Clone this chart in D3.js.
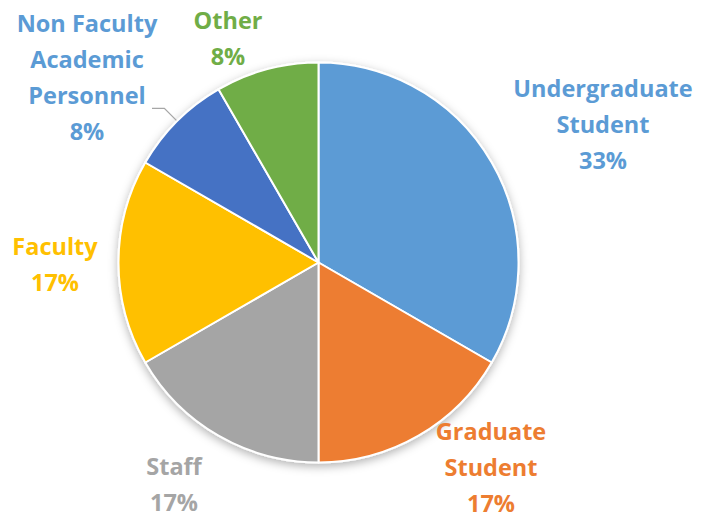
<!DOCTYPE html>
<html>
<head>
<meta charset="utf-8">
<script src="https://cdn.jsdelivr.net/npm/d3@7"></script>
<style>
  html, body { margin: 0; padding: 0; background: #fff; }
  svg { display: block; }
  .label { font-family: "Open Sans", sans-serif; font-weight: bold; font-size: 23.5px; }
</style>
</head>
<body>
<div class="pieDIV"></div>
<script>
// pie chart data
var categories = ["Undergraduate Student", "Graduate Student", "Staff", "Faculty", "Non Faculty Academic Personnel", "Other"],
    counts = [4, 2, 2, 2, 1, 1],
    labelLines = [["Undergraduate", "Student"], ["Graduate", "Student"], ["Staff"], ["Faculty"], ["Non Faculty", "Academic", "Personnel"], ["Other"]],
    sliceColors = ["#5B9BD5", "#ED7D31", "#A5A5A5", "#FFC000", "#4472C4", "#70AD47"],
    textColors = ["#5B9BD5", "#ED7D31", "#A5A5A5", "#FFC000", "#5B9BD5", "#70AD47"];

var width = 701,
    height = 519,
    cx = 318.5,
    cy = 262.5,
    radius = 200,
    lineGap = 36;

// where each label block sits (centre x, first baseline)
var labelPos = [[603, 97], [491, 440], [174, 475], [55, 255], [87, 32], [228, 29]];

var svg = d3.select(".pieDIV").
    append("svg").
    attr("width", width).
    attr("height", height);

var defs = svg.append("defs");
var shadow = defs.append("filter").
    attr("id", "shadow").
    attr("x", "-20%").attr("y", "-20%").
    attr("width", "140%").attr("height", "140%");
shadow.append("feDropShadow").
    attr("dx", 0).attr("dy", 3).
    attr("stdDeviation", 5).
    attr("flood-color", "#000").
    attr("flood-opacity", 0.3);

var data = categories.map(function(c, i) {
    return {id: c, value: counts[i], idx: i};
});
var total = d3.sum(counts);
var pct = d3.format(".0%");

var pie = d3.pie().
    sort(null).
    value(function(d) { return d.value; });

var arc = d3.arc().innerRadius(0).outerRadius(radius);
var arcs = pie(data);

var g = svg.append("g").attr("transform", "translate(" + cx + "," + cy + ")");

g.append("g").
    attr("filter", "url(#shadow)").
    selectAll("path").
    data(arcs).
    enter().
    append("path").
    attr("d", arc).
    attr("fill", function(d) { return sliceColors[d.data.idx]; }).
    attr("stroke", "#fff").
    attr("stroke-width", 2).
    attr("stroke-linejoin", "round");

// leader line for the small blue slice
var edgeArc = d3.arc().innerRadius(radius + 1).outerRadius(radius + 1),
    elbowArc = d3.arc().innerRadius(radius + 18).outerRadius(radius + 18);
var nf = arcs[4];
var p0 = edgeArc.centroid(nf),
    p1 = elbowArc.centroid(nf);
g.append("polyline").
    attr("points", [p0, p1, [152 - cx, p1[1]]].map(function(p) { return p.join(","); }).join(" ")).
    attr("fill", "none").
    attr("stroke", "#A6A6A6").
    attr("stroke-width", 1.3);

// labels
var labels = svg.selectAll(".label").
    data(arcs).
    enter().
    append("text").
    attr("class", "label").
    attr("text-anchor", "middle").
    attr("fill", function(d) { return textColors[d.data.idx]; });

labels.each(function(d) {
    var pos = labelPos[d.data.idx],
        lines = labelLines[d.data.idx].concat([pct(d.data.value / total)]),
        t = d3.select(this);
    lines.forEach(function(l, k) {
        t.append("tspan").
            attr("x", pos[0]).
            attr("y", pos[1] + k * lineGap).
            text(l);
    });
});
</script>
</body>
</html>
